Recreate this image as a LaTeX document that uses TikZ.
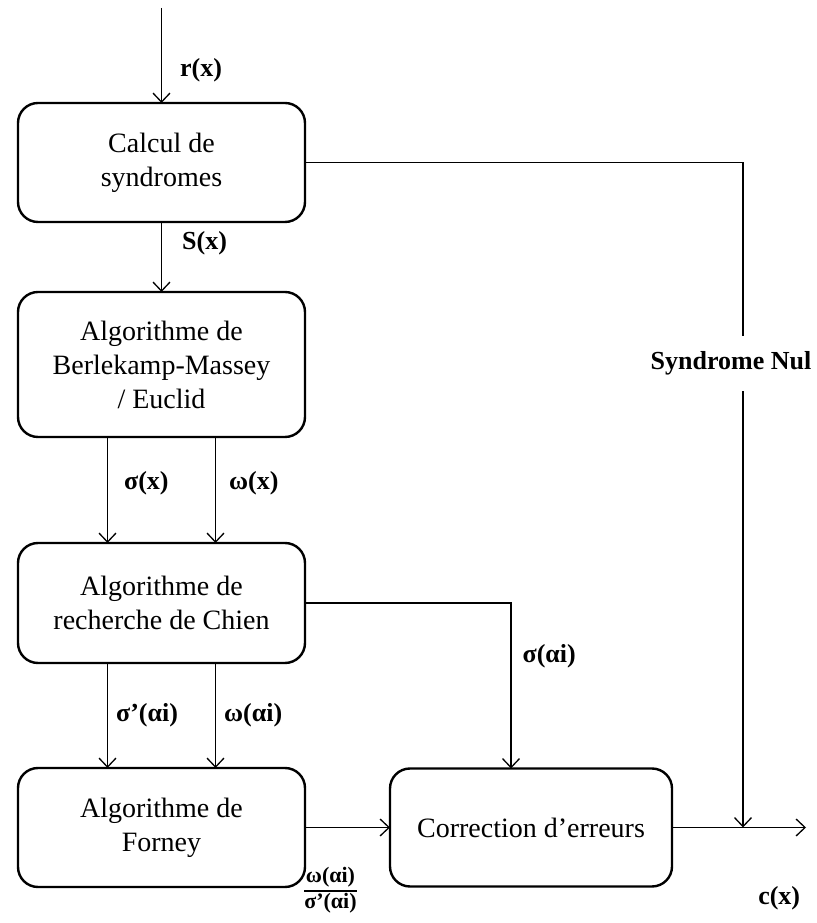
\documentclass[tikz,border=0pt]{standalone}
\usepackage{fontspec}
\setmainfont{Liberation Serif}
\usetikzlibrary{arrows.meta, positioning}

\begin{document}
\begin{tikzpicture}[
    x=1pt, y=1pt,
    >={Straight Barb[length=9pt, width=17pt]},
    node distance=70pt,
    blocknode/.style={rectangle, rounded corners=20pt, draw, line width=2.4pt, outer sep=0pt, minimum width=287pt, minimum height=119pt, align=center, font=\fontsize{28}{34}\selectfont},
    labelnode/.style={font=\fontsize{26}{30}\selectfont\bfseries, inner sep=2pt},
    flow/.style={->, line width=1.3pt}
  ]
  \useasboundingbox (0,0) rectangle (816,923);

  % Decoder blocks
  \node[blocknode] (calc) at (161.5,760.5) {Calcul de\\syndromes};
  \node[blocknode, minimum height=145pt, below=70pt of calc] (berl) {Algorithme de\\Berlekamp-Massey\\/ Euclid};
  \node[blocknode, minimum height=120pt, below=106pt of berl] (chien) {Algorithme de\\recherche de Chien};
  \node[blocknode, below=105pt of chien] (forney) {Algorithme de\\Forney};
  \node[blocknode, minimum width=282pt, minimum height=118pt, right=85pt of forney] (correct) {Correction d’erreurs};

  \coordinate (in) at (161.5,915);
  \coordinate (join) at (743,95.5);
  \coordinate (out) at (806,95.5);

  % Main chain
  \draw[flow] (in) -- node[labelnode, right=16pt, pos=0.66] {r(x)} (calc);
  \draw[flow] (calc) -- node[labelnode, right=18pt, pos=0.31] {S(x)} (berl);
  \draw[flow] ([xshift=-54pt]berl.south) -- node[labelnode, right=14pt, pos=0.44] {σ(x)} ([xshift=-54pt]chien.north);
  \draw[flow] ([xshift=54pt]berl.south) -- node[labelnode, right=11pt, pos=0.44] {ω(x)} ([xshift=54pt]chien.north);
  \draw[flow] ([xshift=-54pt]chien.south) -- node[labelnode, right=6pt, pos=0.5] {σ’(αi)} ([xshift=-54pt]forney.north);
  \draw[flow] ([xshift=54pt]chien.south) -- node[labelnode, right=6pt, pos=0.5] {ω(αi)} ([xshift=54pt]forney.north);
  \draw[flow] (chien.east) -| node[labelnode, right=9pt, pos=0.66] {σ(αi)} ([xshift=-20pt]correct.north);
  \draw[flow] (forney) -- node[below=38pt, pos=0.3, font=\fontsize{22}{24}\selectfont\bfseries, inner sep=0pt] {\setlength{\arrayrulewidth}{1.6pt}\begin{tabular}{@{}c@{}}ω(αi)\\\hline σ’(αi)\end{tabular}} (correct);

  % Bypass and output
  \draw[flow] (calc.east) -| node[labelnode, fill=white, pos=0.651, xshift=-12pt, minimum height=55pt] {Syndrome Nul} (join);
  \draw[flow] (correct.east) -- node[labelnode, pos=0.8, below=56pt] {c(x)} (out);

\end{tikzpicture}
\end{document}
